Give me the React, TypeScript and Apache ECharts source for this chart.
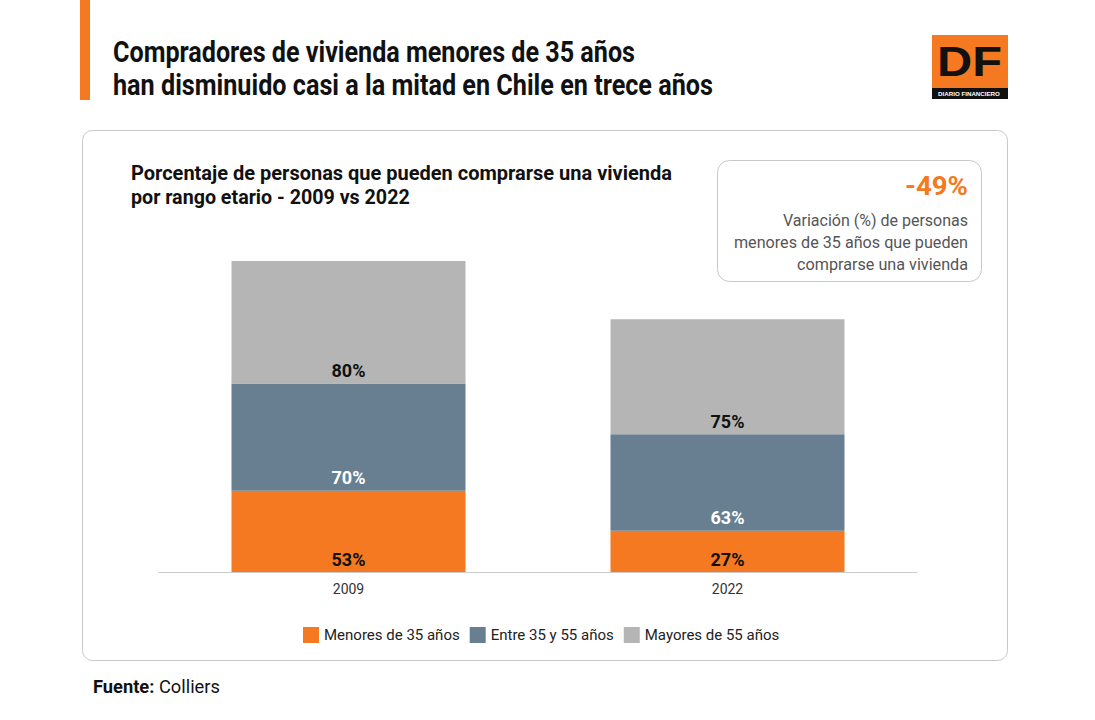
import React, { useEffect, useRef } from "react";
import * as echarts from "echarts";

const categories = ["2009", "2022"];
const seriesNames = ["Menores de 35 años", "Entre 35 y 55 años", "Mayores de 55 años"];
const menores = [53, 27];
const entre = [70, 63];
const mayores = [80, 75];
const colors = ["#F47920", "#677F91", "#B5B5B5"];
const labelColors = ["#111111", "#FFFFFF", "#111111"];

const FONT = "Roboto, 'Noto Sans', sans-serif";

function fitScale(text: string, font: string, target: number): number {
  const c = document.createElement("canvas").getContext("2d");
  if (!c) return 1;
  c.font = font;
  const w = c.measureText(text).width;
  return w > 0 ? target / w : 1;
}

function fitText(text: string, font: string, x: number, y: number, target: number, fill: string, align = "left") {
  return {
    type: "text",
    x,
    y,
    scaleX: fitScale(text, font, target),
    style: { text, font, fill, align, verticalAlign: "middle" },
  };
}

export default function App() {
  const ref = useRef<HTMLDivElement>(null);
  useEffect(() => {
    if (!ref.current) return;
    const chart = echarts.init(ref.current, null, { renderer: "svg" });
    const data = [menores, entre, mayores];
    const tFont = `bold 29px ${FONT}`;
    const sFont = `bold 21px ${FONT}`;
    const iFont = `16px ${FONT}`;
    const fb = `bold 18px ${FONT}`;
    const fn = `18px ${FONT}`;
    const fuenteScale = (() => {
      const c = document.createElement("canvas").getContext("2d");
      if (!c) return 1;
      c.font = fb;
      const w1 = c.measureText("Fuente:").width;
      c.font = fn;
      const w2 = c.measureText(" Colliers").width;
      return 127 / (w1 + w2);
    })();
    const dfFont = `bold 42px 'Liberation Sans', Arial, sans-serif`;
    const option = {
      animation: false,
      backgroundColor: "#ffffff",
      textStyle: { fontFamily: FONT },
      grid: { left: 159, right: 1095 - 917, top: 235, bottom: 148, containLabel: false },
      xAxis: {
        type: "category",
        data: categories,
        axisLine: { lineStyle: { color: "#CCCCCC" } },
        axisTick: { show: false },
        axisLabel: { color: "#333", fontSize: 14, fontFamily: FONT, margin: 10 },
      },
      yAxis: { type: "value", min: 0, max: 220, show: false, splitLine: { show: false } },
      legend: {
        bottom: 72,
        left: 298,
        itemWidth: 16,
        itemHeight: 16,
        itemGap: 10,
        icon: "rect",
        textStyle: { color: "#222", fontSize: 15, fontFamily: FONT },
        data: seriesNames,
      },
      series: seriesNames.map((name, i) => ({
        name,
        type: "bar",
        stack: "total",
        barWidth: 234,
        data: data[i],
        itemStyle: { color: colors[i] },
        label: {
          show: true,
          position: "insideBottom",
          distance: 4,
          formatter: "{c}%",
          color: labelColors[i],
          fontSize: 18,
          fontWeight: "bold",
          fontFamily: FONT,
        },
      })),
      graphic: [
        { type: "rect", shape: { x: 80, y: 0, width: 10, height: 100 }, style: { fill: "#F47920" } },
        fitText("Compradores de vivienda menores de 35 años", tFont, 113, 52, 522, "#111"),
        fitText("han disminuido casi a la mitad en Chile en trece años", tFont, 113, 85, 600, "#111"),
        { type: "rect", shape: { x: 932, y: 35, width: 76, height: 53 }, style: { fill: "#F47920" } },
        { type: "rect", shape: { x: 932, y: 88, width: 76, height: 11 }, style: { fill: "#111" } },
        fitText("DF", dfFont, 969.5, 62, 65, "#111", "center"),
        fitText("DIARIO FINANCIERO", `bold 6px 'Liberation Sans', Arial, sans-serif`, 969, 94, 62, "#fff", "center"),
        {
          type: "rect", shape: { x: 82.5, y: 130.5, width: 925, height: 530, r: 10 },
          style: { fill: "none", stroke: "#C8C8C8", lineWidth: 1 }, z: -1,
        },
        fitText("Porcentaje de personas que pueden comprarse una vivienda", sFont, 131, 173, 541, "#111"),
        fitText("por rango etario - 2009 vs 2022", sFont, 131, 197, 279, "#111"),
        {
          type: "rect", shape: { x: 717.5, y: 160.5, width: 264, height: 121, r: 12 },
          style: { fill: "#fff", stroke: "#C8C8C8", lineWidth: 1 },
        },
        fitText("-49%", `bold 25px ${FONT}`, 968, 186.5, 63, "#F47920", "right"),
        fitText("Variación (%) de personas", iFont, 968, 220.5, 185, "#555", "right"),
        fitText("menores de 35 años que pueden", iFont, 968, 242.5, 234, "#555", "right"),
        fitText("comprarse una vivienda", iFont, 968, 264.5, 171, "#555", "right"),
        {
          type: "text", x: 93, y: 687, scaleX: fuenteScale,
          style: {
            text: "{b|Fuente:}{n| Colliers}",
            verticalAlign: "middle",
            rich: {
              b: { font: fb, fill: "#111" },
              n: { font: fn, fill: "#111" },
            },
          },
        },
      ],
    };
    chart.setOption(option);
    return () => chart.dispose();
  }, []);
  return <div ref={ref} style={{ position: "absolute", left: 0, top: 0, width: 1095, height: 720 }} />;
}
